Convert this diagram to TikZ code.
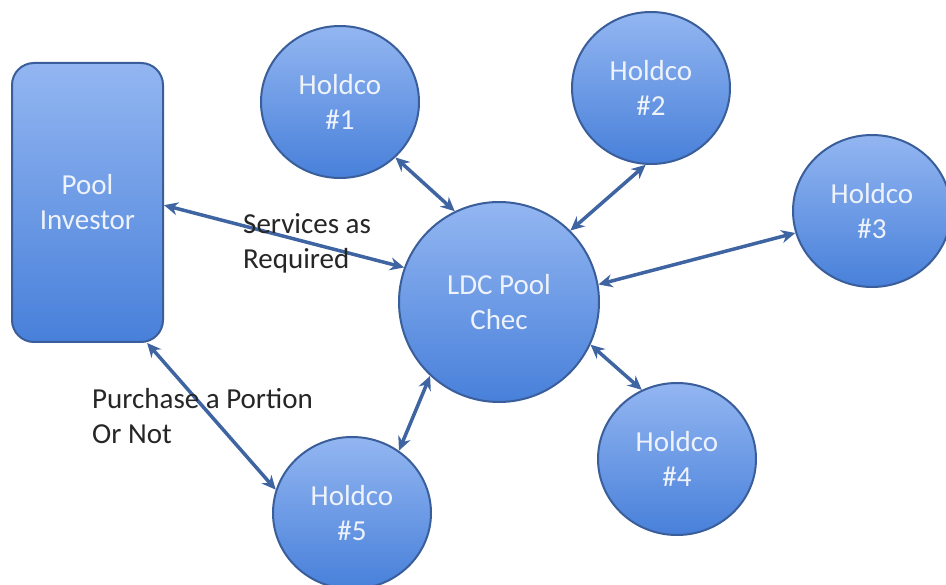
\documentclass[tikz,border=0pt]{standalone}
\usepackage{fontspec}
\setmainfont{Carlito}
\usetikzlibrary{arrows.meta,shapes.geometric}
\definecolor{edgec}{HTML}{3A5E9A}
\definecolor{arrc}{HTML}{3F64A2}
\definecolor{topc}{HTML}{93B6F1}
\definecolor{botc}{HTML}{4880DA}
\definecolor{txtw}{HTML}{EEF3FB}
\begin{document}
\begin{tikzpicture}[x=1pt,y=-1pt,
  blob/.style={draw=edgec,line width=2pt,top color=topc,bottom color=botc,text=txtw,font=\fontsize{29}{35}\selectfont,align=center,inner sep=0pt},
  hold/.style={blob,ellipse,minimum width=158pt,minimum height=152pt},
  link/.style={draw=arrc,line width=3.5pt,{Stealth[length=14pt,width=13pt]}-{Stealth[length=14pt,width=13pt]}},
  lbl/.style={font=\fontsize{29}{35}\selectfont,text=black!85,align=left,inner sep=0pt}]
\path[use as bounding box,fill=white] (0,0) rectangle (946,585);
\node[blob,rounded corners=22pt,minimum width=151pt,minimum height=279pt] (pi) at (87.5,202.5) {Pool\\Investor};
\node[blob,circle,minimum size=200pt] (ldc) at (499,302) {LDC Pool\\Chec};
\node[hold] (h1) at (340,102) {Holdco\\\#1};
\node[hold] (h2) at (651,88) {Holdco\\\#2};
\node[hold] (h3) at (872,211) {Holdco\\\#3};
\node[hold] (h4) at (677,459) {Holdco\\\#4};
\node[hold] (h5) at (352,513) {Holdco\\\#5};
\draw[link] (pi.-2) -- (ldc.160);
\draw[link] (h1.-45) -- (ldc.116);
\draw[link] (h2.-94) -- (ldc.45);
\draw[link] (h3.196) -- (ldc.10);
\draw[link] (h4.117) -- (ldc.-25);
\draw[link] (h5.53) -- (ldc.-133);
\draw[link] (pi.-67) -- (h5.163);
\node[lbl,anchor=base west] (svc) at (243,269) {Services as\\Required};
\node[lbl,anchor=base west] (pur) at (92,443) {Purchase a Portion\\Or Not};
\end{tikzpicture}
\end{document}
